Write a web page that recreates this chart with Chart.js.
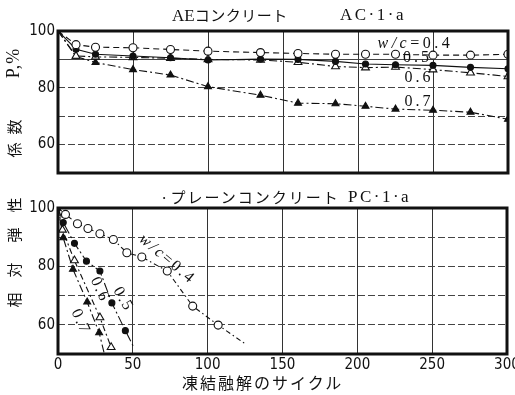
<!DOCTYPE html>
<html>
<head>
<meta charset="utf-8">
<script src="https://cdn.jsdelivr.net/npm/chart.js@4/dist/chart.umd.min.js"></script>
<style>
body { margin: 0; background: #fff; }
#wrap { position: relative; width: 515px; height: 395px; overflow: hidden; color: #111;
        font-family: 'Liberation Serif', 'Noto Sans CJK JP', serif; }
canvas { position: absolute; left: 0; }
#top { top: 0; }
#bot { top: 185px; }
.t { position: absolute; white-space: nowrap; font-size: 15px; line-height: 1; }
.lat { font-size: 17px; letter-spacing: 2.5px; }
.jp { font-family: 'Noto Sans CJK JP', sans-serif; }
.yl { position: absolute; left: 13px; font-family: 'Noto Sans CJK JP', sans-serif; font-size: 15px;
      line-height: 1; white-space: nowrap; transform: translate(-50%, -50%) rotate(-90deg); }
</style>
</head>
<body>
<div id="wrap">
  <canvas id="top" width="515" height="185"></canvas>
  <canvas id="bot" width="515" height="210"></canvas>

  <div class="t" style="left:172px; top:7px;"><span style="font-size:17px">AE</span><span class="jp" style="letter-spacing:0.5px">コンクリート</span></div>
  <div class="t lat" style="left:340px; top:6px;">AC·1·a</div>
  <div class="t jp" style="left:160px; top:189px; letter-spacing:2px;">·プレーンコンクリート</div>
  <div class="t lat" style="left:348px; top:188px;">PC·1·a</div>
  <div class="t jp" style="left:182px; top:374px; font-size:16px; letter-spacing:2px;">凍結融解のサイクル</div>

  <div class="yl" style="top:63px; font-family:'Liberation Serif',serif; font-size:18px; letter-spacing:1px;">P,%</div>
  <div class="yl" style="top:127px;">数</div>
  <div class="yl" style="top:150px;">係</div>
  <div class="yl" style="top:205px;">性</div>
  <div class="yl" style="top:235px;">弾</div>
  <div class="yl" style="top:270px;">対</div>
  <div class="yl" style="top:300px;">相</div>
</div>

<script>
// AE concrete (top panel): relative dynamic modulus P% against freeze-thaw cycles
const topCycles = [0, 12, 25, 50, 75, 100, 135, 160, 185, 205, 225, 250, 275, 300];
const topP04 = [100, 95.2, 94.3, 94.1, 93.5, 92.9, 92.4, 92.1, 91.8, 91.8, 91.8, 91.5, 91.5, 91.8];
const topP05 = [100, 93.6, 91.8, 91.2, 90.6, 89.8, 90.1, 90.0, 89.3, 88.4, 88.1, 87.9, 87.2, 86.7];
const topP06 = [100, 91.2, 90.9, 90.7, 90.4, 90.0, 89.8, 89.0, 87.5, 87.1, 87.3, 86.4, 85.3, 84.0];
const topP07 = [100, 91.0, 88.9, 86.4, 84.5, 80.4, 77.4, 74.6, 74.4, 73.5, 72.5, 72.1, 71.4, 68.9];

// plain concrete (bottom panel)
const botCycles04 = [0, 5, 13, 20, 28, 37, 46, 56, 73, 90, 107, 125];
const botP04 = [100, 97.8, 94.6, 93.0, 91.2, 89.2, 84.7, 83.2, 78.4, 66.4, 59.9, 53.5];
const botCycles05 = [0, 3.5, 11, 19, 28, 36, 45, 51];
const botP05 = [100, 95.0, 87.9, 81.8, 78.4, 67.5, 58.0, 52.0];
const botCycles06 = [0, 3, 11, 28, 35.5];
const botP06 = [100, 92.5, 82.0, 62.5, 52.3];
const botCycles07 = [0, 3.5, 10, 19.5, 27.5, 31];
const botP07 = [100, 89.8, 79.0, 67.8, 57.3, 50.0];

const wcLabels = ['0.4', '0.5', '0.6', '0.7'];
const yTickLabels = [60, 80, 100];

const INK = '#111';
const tickFont = { family: "'Liberation Sans Narrow', 'DejaVu Sans Condensed', 'Liberation Sans', sans-serif", size: 15 };

function pts(xs, ys) {
  return xs.map((x, i) => ({ x: x, y: ys[i] }));
}

const marks = {
  '0.4': { style: 'circle', fill: '#fff', r: 4 },
  '0.5': { style: 'circle', fill: INK, r: 3 },
  '0.6': { style: 'triangle', fill: '#fff', r: 4.5 },
  '0.7': { style: 'triangle', fill: INK, r: 4 }
};

function line(label, data, dash, openTail) {
  const m = marks[label];
  return {
    label: 'w/c=' + label,
    data: data,
    borderColor: INK,
    borderWidth: 1.1,
    borderDash: dash,
    tension: 0,
    pointStyle: m.style,
    pointBorderColor: INK,
    pointBorderWidth: 1.1,
    pointBackgroundColor: c => c.dataIndex === 0 ? INK : m.fill,
    pointRadius: c => (openTail && c.dataIndex === data.length - 1) ? 0 : (c.dataIndex === 0 ? 2.5 : m.r)
  };
}

// thick frame around the plot area
const frame = {
  id: 'frame',
  afterDraw(chart) {
    const a = chart.chartArea, ctx = chart.ctx;
    ctx.save();
    ctx.strokeStyle = INK;
    ctx.lineWidth = 3;
    ctx.strokeRect(a.left, a.top, a.right - a.left, a.bottom - a.top);
    ctx.restore();
  }
};

function notes(list) {
  return {
    id: 'notes',
    afterDatasetsDraw(chart) {
      const ctx = chart.ctx;
      list.forEach(n => {
        const px = chart.scales.x.getPixelForValue(n.x);
        const py = chart.scales.y.getPixelForValue(n.y);
        ctx.save();
        ctx.translate(px, py);
        ctx.rotate(n.rot * Math.PI / 180);
        ctx.fillStyle = INK;
        ctx.textBaseline = 'middle';
        ctx.textAlign = 'left';
        ctx.letterSpacing = n.sp + 'px';
        let head = '', tail = n.text;
        if (tail.startsWith('w/c')) { head = 'w/c'; tail = tail.slice(3); }
        ctx.font = 'italic 16px "Liberation Serif", serif';
        const hw = head ? ctx.measureText(head).width : 0;
        ctx.font = '16px "Liberation Serif", serif';
        const tw = ctx.measureText(tail).width;
        let x0 = n.center ? -(hw + tw) / 2 : 0;
        if (head) {
          ctx.font = 'italic 16px "Liberation Serif", serif';
          ctx.fillText(head, x0, 0);
        }
        ctx.font = '16px "Liberation Serif", serif';
        ctx.fillText(tail, x0 + hw, 0);
        ctx.restore();
      });
    }
  };
}

function makeScales(showX, xHeight, solid90) {
  return {
    x: {
      type: 'linear', min: 0, max: 300,
      ticks: { display: showX, stepSize: 50, padding: 2, color: INK, font: tickFont, maxRotation: 0, autoSkip: false },
      grid: { drawTicks: false, color: '#333', lineWidth: 1 },
      border: { display: false },
      afterFit: s => { s.height = xHeight; s.paddingLeft = 0; s.paddingRight = 0; }
    },
    y: {
      min: 50, max: 100,
      ticks: {
        stepSize: 10, padding: 3, color: INK, font: tickFont,
        callback: v => yTickLabels.includes(v) ? String(v) : ''
      },
      grid: { drawTicks: false, color: '#444', lineWidth: 1 },
      border: {
        display: false,
        dash: c => (solid90 && c.tick && c.tick.value === 90) ? [] : [7, 3]
      },
      afterFit: s => { s.width = 58; s.paddingTop = 0; s.paddingBottom = 0; }
    }
  };
}

const common = {
  responsive: false,
  animation: false,
  plugins: { legend: { display: false }, tooltip: { enabled: false } }
};

new Chart(document.getElementById('top'), {
  type: 'line',
  data: {
    datasets: [
      line(wcLabels[0], pts(topCycles, topP04), [6, 4], false),
      line(wcLabels[1], pts(topCycles, topP05), [], false),
      line(wcLabels[2], pts(topCycles, topP06), [8, 3, 2, 3], false),
      line(wcLabels[3], pts(topCycles, topP07), [8, 3, 2, 3], false)
    ]
  },
  options: {
    ...common,
    layout: { padding: { top: 31, right: 7, bottom: 12, left: 0 } },
    scales: makeScales(false, 0, true)
  },
  plugins: [frame, notes([
    { text: 'w/c=' + wcLabels[0], x: 213, y: 95.4, rot: 0, sp: 3.5 },
    { text: wcLabels[1], x: 230, y: 90.6, rot: 0, sp: 3 },
    { text: wcLabels[2], x: 231, y: 83.4, rot: 0, sp: 3 },
    { text: wcLabels[3], x: 231, y: 74.9, rot: 0, sp: 3 }
  ])]
});

new Chart(document.getElementById('bot'), {
  type: 'line',
  data: {
    datasets: [
      line(wcLabels[0], pts(botCycles04, botP04), [5, 3, 1.5, 3], true),
      line(wcLabels[1], pts(botCycles05, botP05), [10, 3, 2, 3], true),
      line(wcLabels[2], pts(botCycles06, botP06), [6, 3, 2, 3], false),
      line(wcLabels[3], pts(botCycles07, botP07), [8, 3, 2, 3], true)
    ]
  },
  options: {
    ...common,
    layout: { padding: { top: 23, right: 8, bottom: 0, left: 0 } },
    scales: makeScales(true, 41, false)
  },
  plugins: [frame, notes([
    { text: 'w/c=' + wcLabels[0], x: 73, y: 82.4, rot: 40, sp: 2.5, center: true },
    { text: wcLabels[1], x: 43.5, y: 68.7, rot: 60, sp: 2, center: true },
    { text: wcLabels[2], x: 28, y: 72, rot: 65, sp: 2, center: true },
    { text: wcLabels[3], x: 15, y: 61, rot: 65, sp: 2, center: true }
  ])]
});
</script>
</body>
</html>
